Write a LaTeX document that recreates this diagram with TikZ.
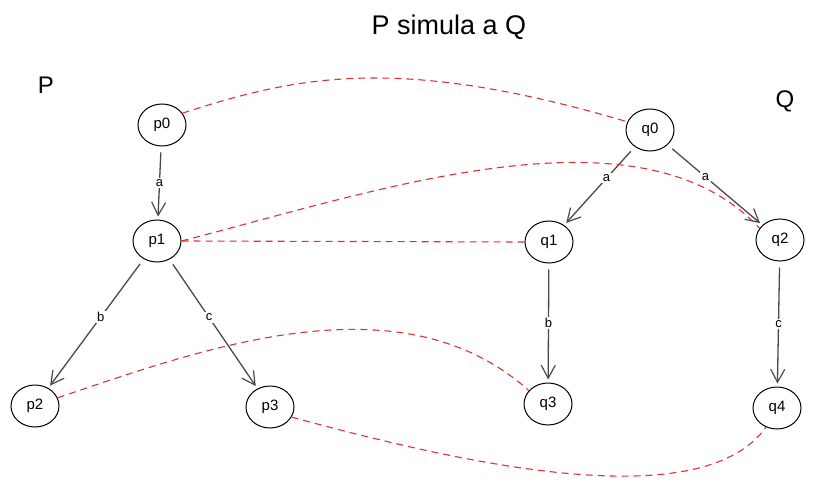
\documentclass[tikz,border=0pt]{standalone}
\usepackage{fontspec}
\setmainfont{Liberation Sans}
\usetikzlibrary{shapes.geometric,arrows.meta}
\definecolor{simred}{HTML}{E03131}
\definecolor{arrgray}{HTML}{4A4A4A}
\begin{document}
\begin{tikzpicture}[x=1pt,y=-1pt,
	state/.style={ellipse,draw,line width=1pt,minimum width=48pt,minimum height=42pt,inner sep=0pt,font=\fontsize{15}{17}\selectfont},
	trans/.style={draw=arrgray,line width=1.3pt,-{Straight Barb[length=13pt,width=14pt,line width=1.2pt]},shorten <=6pt,shorten >=3pt},
	lbl/.style={fill=white,inner sep=1.5pt,font=\fontsize{13}{15}\selectfont,text=black},
	sim/.style={draw=simred,line width=1.1pt,dash pattern=on 7pt off 5pt}]
			\useasboundingbox (0,0) rectangle (814,484);
			\fill[white] (0,0) rectangle (814,484);
			
			\node (title) at (449,27) {\fontsize{27}{31}\selectfont P simula a Q};
			\node (lp) at (46,85) {\fontsize{24}{28}\selectfont P};
			\node (lq) at (785,101) {\fontsize{24}{28}\selectfont Q};
			
			\node[state] (p0) at (162,125) {p0};
			\node[state] (p1) at (157,241) {p1};
			\node[state] (p2) at (35,406) {p2};
			\node[state] (p3) at (270,407) {p3};
			
			\node[state] (q0) at (650,130) {q0};
			\node[state] (q1) at (549,242) {q1};
			\node[state] (q2) at (780,240) {q2};
			\node[state] (q3) at (548,404) {q3};
			\node[state] (q4) at (777,408) {q4};
			
			\draw[trans] (p0) -- node[lbl] {a} (p1);
			\draw[trans] (p1) -- node[lbl,pos=0.45] {b} (p2);
			\draw[trans] (p1) -- node[lbl,pos=0.45] {c} (p3);
			
			\draw[trans] (q0) -- node[lbl,pos=0.4] {a} (q1);
			\draw[trans] (q0) -- node[lbl,pos=0.4] {a} (q2);
			\draw[trans] (q1) -- node[lbl,pos=0.5] {b} (q3);
			\draw[trans] (q2) -- node[lbl,pos=0.5] {c} (q4);
			
			\draw[sim] (p0.30) .. controls (300,75) and (400,55) .. (q0.160);
			\draw[sim] (p1.east) .. controls (380,190) and (640,100) .. (q2.150);
			\draw[sim] (p1.east) -- (q1.west);
			\draw[sim] (p2.20) .. controls (200,350) and (400,275) .. (q3.145);
			\draw[sim] (p3.-25) .. controls (450,460) and (700,520) .. (q4.-120);
		\end{tikzpicture}
\end{document}
